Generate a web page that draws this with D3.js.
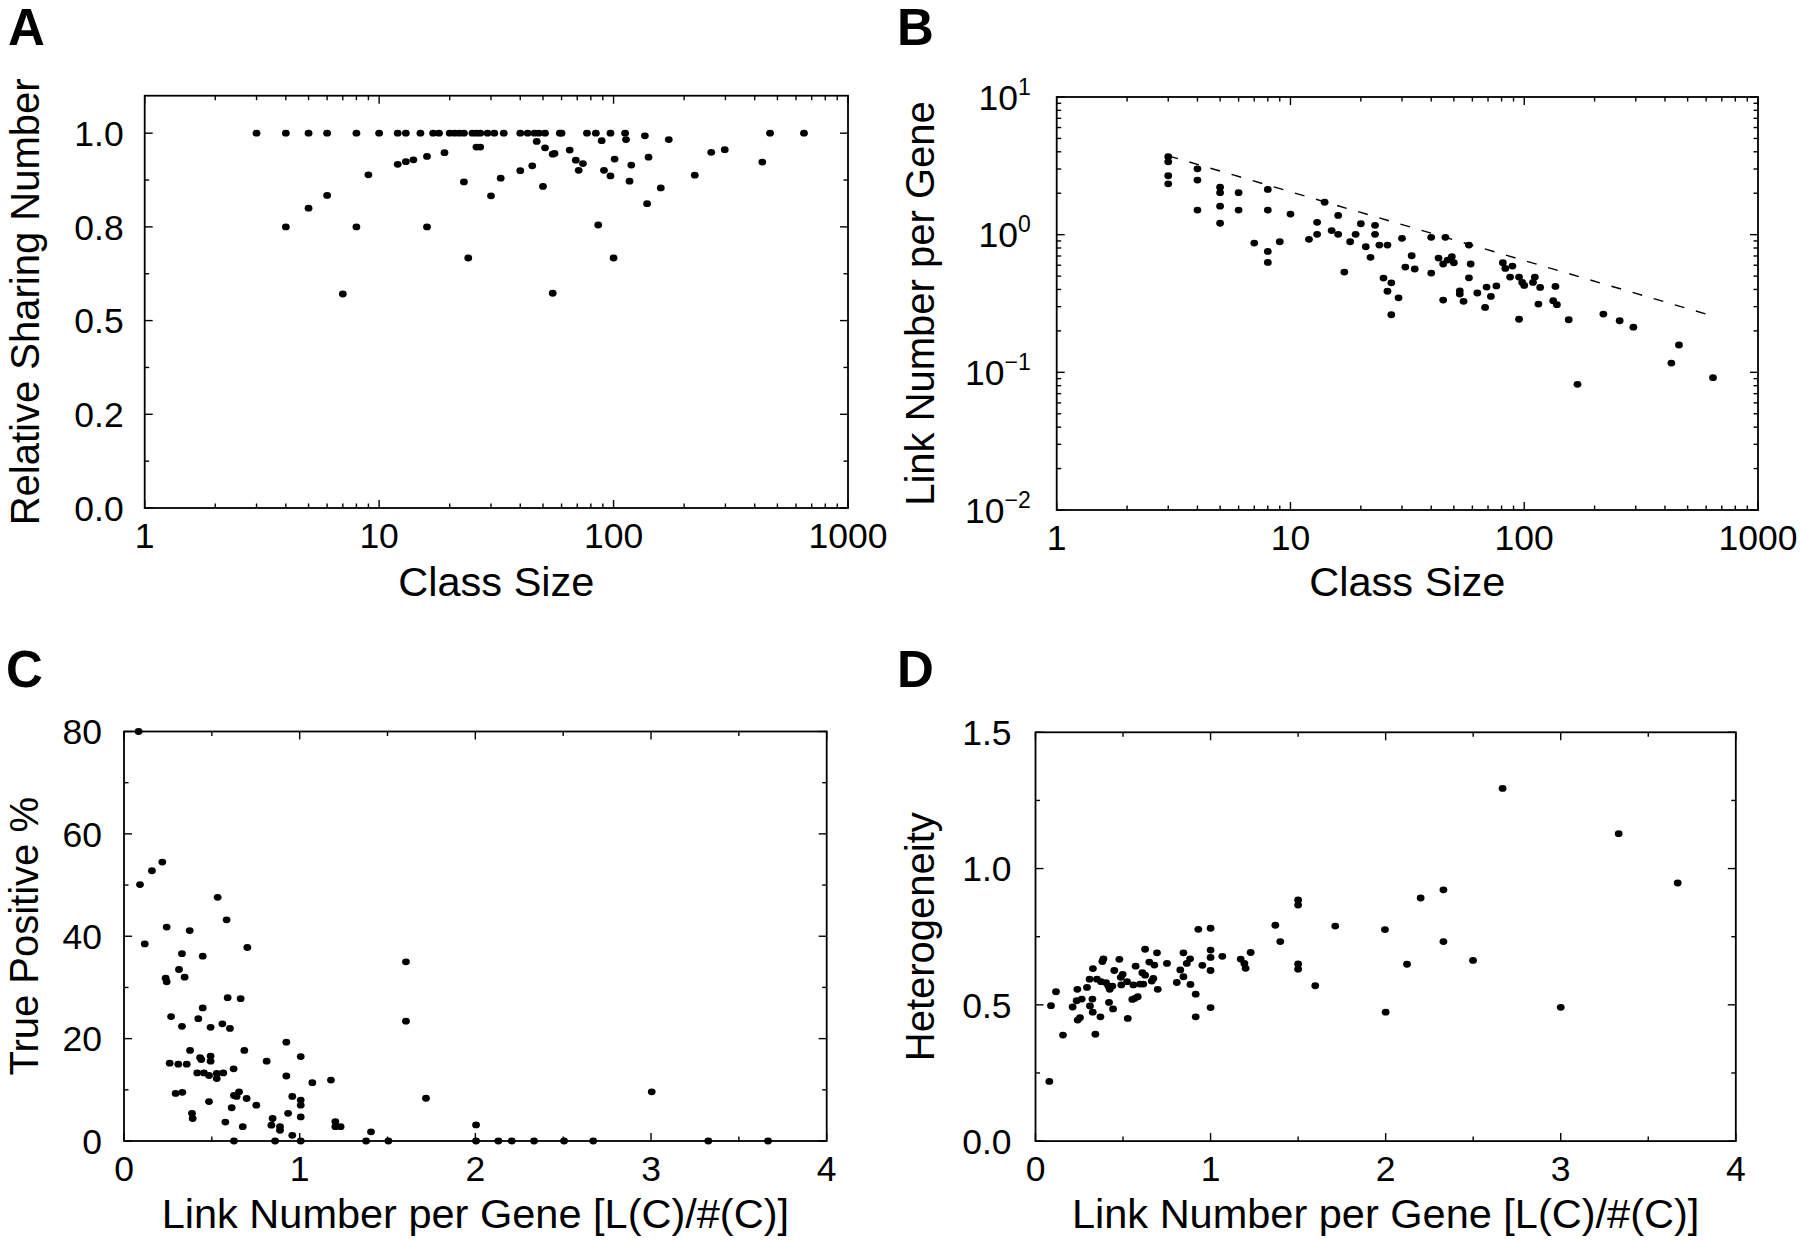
<!DOCTYPE html>
<html>
<head>
<meta charset="utf-8">
<script src="https://cdn.jsdelivr.net/npm/d3@7"></script>
<style>
  html, body { margin: 0; padding: 0; background: #fff; }
  svg { display: block; }
  text { font-family: "Liberation Sans", Arial, Helvetica, sans-serif; fill: #000; }
</style>
</head>
<body>
<svg id="fig" width="1800" height="1241"></svg>
<script>
// ---------------- DATA ----------------
// Panel A: class size vs relative sharing number
const classSizeA = [3,4,5,6,8,10,12,13,15,17,18,20,21,22,23,25,26,27,29,31,34,40,43,46,48,51,59,60,77,84,97,112,465,649,
  47,26,27,19,16,14,13,12,9,6,5,4,8,16,7,24,23,30,33,40,45,50,51,55,56,65,69,74,71,89,91,97,101,113,119,117,136,141,139,159,172,86,100,55,222,261,298,431];
const sharingA = [1,1,1,1,1,1,1,1,1,1,1,1,1,1,1,1,1,1,1,1,1,1,1,1,1,1,1,1,1,1,1,1,1,1,
  0.978,0.963,0.963,0.948,0.938,0.929,0.924,0.917,0.889,0.834,0.80,0.75,0.75,0.75,0.571,0.667,0.870,0.833,0.88,0.90,0.913,0.858,0.961,0.944,0.946,0.955,0.928,0.919,0.901,0.98,0.901,0.886,0.931,0.983,0.915,0.872,0.993,0.936,0.812,0.854,0.983,0.755,0.667,0.573,0.888,0.949,0.956,0.923];

// Panel B: class size vs link number per gene (log-log)
const classSizeB = [3,3,3,3,4,4,4,5,5,5,5,6,6,8,8,8,8,7,9,10,12,13,13,14,15,16,16,17,18,19,20,21,22,23,23,24,26,25,27,26,29,27,30,33,31,34,
  40,46,58,40,43,45,47,49,50,45,59,58,53,53,55,63,69,72,76,68,81,83,89,87,95,98,100,95,111,109,117,115,136,133,138,155,169,218,256,293,426,459,642];
const linksB = [3.68,3.38,2.68,2.34,3.01,2.49,1.51,2.21,2.02,1.61,1.21,2.02,1.51,2.13,1.51,0.756,0.629,0.869,0.888,1.41,0.925,1.23,1.005,1.72,1.07,1.38,1.005,0.535,0.888,1.005,1.2,0.817,0.684,1.17,1.005,0.84,0.84,0.484,0.447,0.388,0.348,0.262,0.94,0.703,0.582,0.563,
  0.956,0.956,0.84,0.526,0.676,0.612,0.654,0.692,0.625,0.335,0.612,0.486,0.391,0.37,0.328,0.377,0.416,0.356,0.424,0.296,0.625,0.569,0.591,0.492,0.492,0.45,0.428,0.243,0.492,0.45,0.414,0.313,0.421,0.331,0.31,0.241,0.0818,0.265,0.237,0.213,0.1168,0.158,0.0914];
// dashed reference line (end points)
const fitLineX = [3, 600];
const fitLineY = [3.74, 0.265];

// Panel C: link number per gene vs true positive %
const linksC = [0.083,0.091,0.159,0.218,0.118,0.243,0.374,0.533,0.584,0.702,0.330,0.448,0.313,0.345,0.237,0.243,0.590,0.664,0.448,0.268,0.423,0.330,0.493,0.560,0.603,0.924,0.376,0.685,0.433,0.440,0.493,0.493,1.006,0.812,0.260,0.309,0.357,0.624,0.417,0.455,0.484,0.528,0.528,0.565,0.924,1.072,1.178,0.294,0.332,0.626,0.655,0.641,0.698,0.958,1.006,1.006,0.484,0.613,0.753,0.934,1.006,0.387,0.391,0.577,0.676,0.846,0.839,0.888,0.888,0.958,1.203,1.203,1.233,0.626,0.860,1.006,
  1.605,1.605,1.719,3.004,1.406,2.004,
  1.378,1.505,2.004,2.131,2.207,2.334,2.505,2.671,3.326,3.666];
const truePosC = [80,50.1,52.8,54.5,38.5,41.8,41.1,47.6,43.2,37.8,36.6,36.1,33.5,32.0,31.8,31.1,28.0,27.8,26.0,24.3,23.9,22.4,22.2,22.9,22.0,19.3,17.7,17.7,16.3,15.9,16.6,15.6,16.5,15.6,15.2,15.0,15.0,14.1,13.3,13.3,12.8,12.2,13.2,13.3,12.7,11.4,11.9,9.3,9.5,8.9,9.6,8.7,8.3,8.7,8.0,7.0,7.7,6.5,7.0,5.4,4.7,5.4,4.4,3.7,2.8,4.4,3.1,2.8,2.1,1.1,3.8,2.8,2.8,0,0,0,
  35.0,23.4,8.35,9.6,1.8,3.15,
  0,0,0,0,0,0,0,0,0,0];

// Panel D: link number per gene vs heterogeneity
const linksD = [0.079,0.0885,0.117,0.157,0.239,0.212,0.235,0.264,0.241,0.254,0.294,0.309,0.328,0.325,0.311,0.327,0.342,0.371,0.351,0.382,0.388,0.374,0.403,0.416,0.424,0.439,0.45,0.42,0.443,0.479,0.487,0.49,0.498,0.523,0.527,0.559,0.572,0.553,0.568,0.584,0.597,0.61,0.626,0.626,0.616,0.65,0.664,0.673,0.679,0.694,0.698,0.751,0.807,0.827,0.845,0.845,0.864,0.883,0.885,0.915,0.915,0.93,0.953,1.0,1.0,1.0,1.0,1.0,1.067,1.172,1.193,1.2,1.229,
  1.37,1.398,1.5,1.5,1.5,1.5,1.598,1.712,1.996,2.0,2.122,2.2,2.33,2.33,2.499,2.668,3.0,3.331,3.668];
const heteroD = [0.219,0.497,0.548,0.389,0.557,0.492,0.515,0.521,0.444,0.453,0.564,0.594,0.633,0.521,0.496,0.473,0.392,0.456,0.594,0.659,0.669,0.585,0.581,0.569,0.557,0.569,0.626,0.509,0.485,0.667,0.601,0.573,0.612,0.585,0.45,0.573,0.642,0.52,0.524,0.53,0.576,0.618,0.609,0.704,0.576,0.657,0.587,0.597,0.646,0.691,0.557,0.652,0.582,0.628,0.691,0.603,0.652,0.669,0.575,0.539,0.456,0.777,0.645,0.781,0.701,0.674,0.626,0.49,0.678,0.668,0.652,0.634,0.692,
  0.792,0.732,0.885,0.866,0.65,0.631,0.57,0.789,0.776,0.473,0.649,0.892,0.922,0.732,0.663,1.294,0.491,1.128,0.947];

// Tick values and labels
const logTicks = [1, 10, 100, 1000];
const logTickLabels = ["1", "10", "100", "1000"];
const ticksAy = [0, 0.25, 0.5, 0.75, 1.0];
const tickLabelsAy = ["0.0", "0.2", "0.5", "0.8", "1.0"];
const ticksBy = [0.01, 0.1, 1, 10];
const tickExpBy = ["\u22122", "\u22121", "0", "1"];
const linTicksX = [0, 1, 2, 3, 4];
const linTickLabelsX = ["0", "1", "2", "3", "4"];
const ticksCy = [0, 20, 40, 60, 80];
const tickLabelsCy = ["0", "20", "40", "60", "80"];
const ticksDy = [0, 0.5, 1.0, 1.5];
const tickLabelsDy = ["0.0", "0.5", "1.0", "1.5"];

// ---------------- DRAWING ----------------
const svg = d3.select("#fig");
const TICK_FS = 35.5, TITLE_FS = 40, XTITLE_FS = 41.5, LETTER_FS = 51;
const MAJ = 8, MIN = 4.5, R = 3.6;

function logMinor(domain) {
  const out = [];
  for (let d = domain[0]; d < domain[1]; d *= 10)
    for (let k = 2; k <= 9; k++) out.push(d * k);
  return out;
}

function panel(cfg) {
  const g = svg.append("g");
  const x = cfg.x, y = cfg.y;
  const [x0, x1] = x.range(), [y0, y1] = y.range(); // y0 bottom, y1 top

  // ticks (inward, mirrored on all sides)
  const tk = g.append("g").attr("stroke", "#000").attr("stroke-width", 1.4);
  const xt = (v, len) => {
    const px = x(v);
    tk.append("line").attr("x1", px).attr("x2", px).attr("y1", y0).attr("y2", y0 - len);
    tk.append("line").attr("x1", px).attr("x2", px).attr("y1", y1).attr("y2", y1 + len);
  };
  const yt = (v, len) => {
    const py = y(v);
    tk.append("line").attr("y1", py).attr("y2", py).attr("x1", x0).attr("x2", x0 + len);
    tk.append("line").attr("y1", py).attr("y2", py).attr("x1", x1).attr("x2", x1 - len);
  };
  cfg.xMajor.forEach(v => xt(v, MAJ));
  cfg.xMinor.forEach(v => xt(v, MIN));
  cfg.yMajor.forEach(v => yt(v, MAJ));
  cfg.yMinor.forEach(v => yt(v, MIN));

  // frame
  g.append("rect").attr("x", x0).attr("y", y1).attr("width", x1 - x0).attr("height", y0 - y1)
    .attr("fill", "none").attr("stroke", "#000").attr("stroke-width", 1.8);

  // x tick labels
  g.append("g").selectAll("text").data(cfg.xMajor).join("text")
    .attr("x", d => x(d)).attr("y", y0 + cfg.xLabelOff)
    .attr("text-anchor", "middle").attr("font-size", TICK_FS)
    .text((d, i) => cfg.xLabels[i]);

  // y tick labels
  const yl = g.append("g").selectAll("text").data(cfg.yMajor).join("text")
    .attr("x", x0 - cfg.yLabelGap).attr("y", d => y(d) + TICK_FS * 0.36)
    .attr("text-anchor", "end").attr("font-size", TICK_FS);
  if (cfg.yExp) {
    yl.each(function(d, i) {
      const t = d3.select(this);
      t.append("tspan").text("10");
      t.append("tspan").attr("font-size", 23).attr("dy", -15).text(cfg.yExp[i]);
    });
  } else {
    yl.text((d, i) => cfg.yLabels[i]);
  }

  // titles
  g.append("text").attr("x", (x0 + x1) / 2).attr("y", cfg.xTitleY)
    .attr("text-anchor", "middle").attr("font-size", XTITLE_FS).text(cfg.xTitle);
  g.append("text")
    .attr("transform", `translate(${cfg.yTitleX},${(y0 + y1) / 2}) rotate(-90)`)
    .attr("text-anchor", "middle").attr("font-size", TITLE_FS).text(cfg.yTitle);

  // panel letter
  g.append("text").attr("x", cfg.letterPos[0]).attr("y", cfg.letterPos[1])
    .attr("font-size", LETTER_FS).attr("font-weight", "bold").text(cfg.letter);

  // extra (line)
  if (cfg.extra) cfg.extra(g, x, y);

  // points
  g.append("g").selectAll("ellipse").data(cfg.xs.map((v, i) => [v, cfg.ys[i]])).join("ellipse")
    .attr("cx", d => x(d[0])).attr("cy", d => y(d[1]))
    .attr("rx", R + 0.3).attr("ry", R - 0.2).attr("fill", "#000");
}

// Panel A
panel({
  letter: "A", letterPos: [8, 45],
  x: d3.scaleLog().domain([1, 1000]).range([144.7, 848]),
  y: d3.scaleLinear().domain([0, 1.1]).range([508, 95.7]),
  xMajor: logTicks, xLabels: logTickLabels, xMinor: logMinor([1, 1000]),
  yMajor: ticksAy, yLabels: tickLabelsAy, yMinor: [0.125, 0.375, 0.625, 0.875],
  xLabelOff: 40, yLabelGap: 21,
  xTitle: "Class Size", xTitleY: 596,
  yTitle: "Relative Sharing Number", yTitleX: 39,
  xs: classSizeA, ys: sharingA
});

// Panel B
panel({
  letter: "B", letterPos: [897, 45],
  x: d3.scaleLog().domain([1, 1000]).range([1056.7, 1758]),
  y: d3.scaleLog().domain([0.01, 10]).range([510, 97]),
  xMajor: logTicks, xLabels: logTickLabels, xMinor: logMinor([1, 1000]),
  yMajor: ticksBy, yExp: tickExpBy, yMinor: logMinor([0.01, 10]),
  xLabelOff: 40, yLabelGap: 26,
  xTitle: "Class Size", xTitleY: 596,
  yTitle: "Link Number per Gene", yTitleX: 934,
  xs: classSizeB, ys: linksB,
  extra: (g, x, y) => {
    g.append("path")
      .datum(fitLineX.map((v, i) => [v, fitLineY[i]]))
      .attr("d", d3.line().x(d => x(d[0])).y(d => y(d[1])))
      .attr("fill", "none").attr("stroke", "#000").attr("stroke-width", 1.4)
      .attr("stroke-dasharray", "10,12");
  }
});

// Panel C
panel({
  letter: "C", letterPos: [6, 687],
  x: d3.scaleLinear().domain([0, 4]).range([124, 826.7]),
  y: d3.scaleLinear().domain([0, 80]).range([1141, 731.5]),
  xMajor: linTicksX, xLabels: linTickLabelsX, xMinor: [0.5, 1.5, 2.5, 3.5],
  yMajor: ticksCy, yLabels: tickLabelsCy, yMinor: [10, 30, 50, 70],
  xLabelOff: 40, yLabelGap: 22,
  xTitle: "Link Number per Gene [L(C)/#(C)]", xTitleY: 1228,
  yTitle: "True Positive %", yTitleX: 38,
  xs: linksC, ys: truePosC
});

// Panel D
panel({
  letter: "D", letterPos: [897, 687],
  x: d3.scaleLinear().domain([0, 4]).range([1035.5, 1735.8]),
  y: d3.scaleLinear().domain([0, 1.5]).range([1141.1, 732.3]),
  xMajor: linTicksX, xLabels: linTickLabelsX, xMinor: [0.5, 1.5, 2.5, 3.5],
  yMajor: ticksDy, yLabels: tickLabelsDy, yMinor: [0.25, 0.75, 1.25],
  xLabelOff: 40, yLabelGap: 24,
  xTitle: "Link Number per Gene [L(C)/#(C)]", xTitleY: 1228,
  yTitle: "Heterogeneity", yTitleX: 934,
  xs: linksD, ys: heteroD
});
</script>
</body>
</html>
